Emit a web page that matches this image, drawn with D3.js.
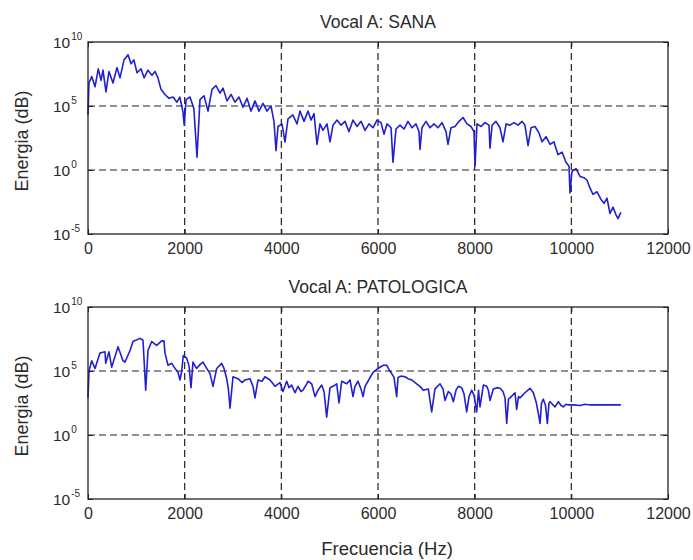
<!DOCTYPE html>
<html>
<head>
<meta charset="utf-8">
<script src="https://cdn.jsdelivr.net/npm/d3@7"></script>
<style>
  body { margin: 0; background: #fff; }
  text { font-family: "Liberation Sans", Arial, sans-serif; fill: #2b2b2b; }
</style>
</head>
<body>
<div id="chart"></div>
<script>
var w = 693;
var h = 560;

var xTicks = [0, 2000, 4000, 6000, 8000, 10000, 12000];
var yTickExps = [-5, 0, 5, 10];
var titles = ["Vocal A: SANA", "Vocal A: PATOLOGICA"];

// espectro vocal sana: frecuencia (Hz) y exponente log10 de la energia
var sanaFreq = [0, 20, 77, 145, 213, 270, 310, 372, 434, 517, 600, 662, 745, 828, 890, 950, 1014, 1097, 1160, 1240,
  1324, 1386, 1448, 1510, 1593, 1676, 1760, 1840, 1900, 1966, 1990, 2030, 2110, 2190, 2255, 2317, 2400, 2483, 2566, 2648,
  2731, 2793, 2876, 2960, 3041, 3124, 3207, 3290, 3372, 3455, 3538, 3620, 3703, 3786, 3848, 3890, 3931, 4014, 4076, 4138,
  4240, 4324, 4386, 4469, 4552, 4614, 4676, 4738, 4800, 4862, 4945, 5007, 5069, 5152, 5235, 5318, 5400, 5483, 5566, 5650,
  5731, 5814, 5897, 5980, 6062, 6124, 6186, 6270, 6310, 6372, 6455, 6538, 6620, 6703, 6786, 6848, 6869, 6910, 6993, 7076,
  7158, 7240, 7324, 7407, 7448, 7510, 7593, 7676, 7760, 7840, 7924, 7986, 8007, 8048, 8131, 8214, 8297, 8317, 8360, 8441,
  8524, 8586, 8650, 8731, 8814, 8897, 8980, 9040, 9104, 9166, 9248, 9331, 9393, 9476, 9560, 9640, 9724, 9807, 9890, 9952,
  9972, 10014, 10097, 10180, 10262, 10324, 10386, 10448, 10531, 10614, 10676, 10738, 10800, 10862, 10924, 10966, 11025];
var sanaExp = [4.3, 6.8, 7.3, 6.5, 7.9, 7.0, 7.8, 6.1, 7.7, 6.8, 8.0, 7.2, 8.6, 9.0, 8.3, 8.6, 7.6, 7.9, 7.2, 7.8,
  7.4, 7.7, 7.2, 6.3, 5.9, 5.6, 5.7, 5.3, 5.7, 4.5, 3.5, 5.5, 5.7, 4.8, 1.0, 5.5, 5.8, 4.6, 6.3, 6.6,
  6.0, 6.4, 5.4, 5.9, 5.3, 5.7, 4.9, 5.6, 4.6, 5.4, 4.6, 5.2, 4.6, 5.0, 3.8, 1.5, 3.4, 3.6, 2.2, 4.0,
  4.3, 3.6, 4.6, 3.8, 4.6, 3.9, 4.4, 2.0, 3.6, 3.1, 3.6, 2.2, 3.5, 3.9, 3.5, 3.8, 3.0, 3.9, 3.4, 3.8,
  3.1, 3.6, 3.3, 3.9, 3.7, 2.8, 3.6, 3.3, 0.6, 3.2, 3.5, 3.2, 3.8, 3.3, 3.6, 3.0, 1.6, 3.3, 3.8, 3.3,
  3.6, 3.3, 3.7, 3.0, 2.0, 3.3, 3.4, 3.8, 4.1, 3.6, 3.4, 3.0, 0.3, 3.6, 3.4, 3.7, 3.5, 1.7, 3.5, 3.8,
  3.3, 2.2, 3.6, 3.5, 3.7, 3.5, 3.8, 3.5, 1.9, 3.3, 3.4, 2.9, 2.2, 2.6, 2.0, 2.2, 1.2, 1.4, 0.6, 0.3,
  -1.8, -0.1, 0.1, -0.5, -0.6, -0.8, -1.4, -1.9, -1.7, -2.3, -2.6, -2.2, -3.4, -2.9, -3.5, -3.8, -3.3];

// espectro vocal patologica
var patoFreq = [0, 21, 77, 145, 248, 352, 366, 434, 490, 621, 724, 766, 869, 931, 1076, 1138, 1194, 1241, 1318, 1421,
  1525, 1572, 1593, 1655, 1732, 1800, 1862, 1903, 1935, 1972, 2042, 2090, 2131, 2172, 2245, 2317, 2379, 2441, 2524, 2586,
  2663, 2766, 2814, 2870, 2907, 2938, 3000, 3103, 3186, 3248, 3352, 3414, 3455, 3517, 3600, 3662, 3766, 3869, 3972, 4034,
  4111, 4159, 4214, 4283, 4345, 4407, 4448, 4525, 4552, 4628, 4697, 4759, 4835, 4883, 4938, 5007, 5069, 5146, 5193, 5249,
  5352, 5421, 5483, 5524, 5586, 5648, 5690, 5731, 5793, 5897, 6000, 6110, 6180, 6228, 6283, 6331, 6387, 6414, 6476, 6559,
  6621, 6697, 6800, 6869, 6938, 7041, 7111, 7179, 7283, 7345, 7386, 7455, 7510, 7559, 7614, 7662, 7732, 7780, 7835, 7883,
  7938, 7986, 8042, 8080, 8110, 8180, 8249, 8283, 8317, 8386, 8462, 8524, 8586, 8628, 8663, 8700, 8731, 8835, 8869, 8907,
  8938, 9041, 9145, 9214, 9270, 9317, 9352, 9383, 9421, 9466, 9504, 9538, 9559, 9662, 9731, 9787, 9835, 9890, 9938, 10041,
  10180, 10283, 10386, 11025];
var patoExp = [2.9, 5.0, 5.8, 5.2, 6.4, 6.5, 5.6, 6.5, 5.3, 6.9, 5.8, 5.7, 6.6, 7.3, 7.55, 7.4, 3.5, 6.6, 7.3, 7.0,
  7.35, 7.35, 6.4, 5.45, 5.6, 5.2, 4.9, 4.3, 4.9, 6.2, 6.0, 5.4, 3.7, 5.7, 5.2, 5.5, 5.7, 5.3, 4.8, 3.8,
  5.2, 5.6, 5.2, 4.4, 3.5, 2.1, 4.55, 4.4, 4.1, 4.3, 4.4, 3.8, 2.9, 4.3, 4.2, 4.55, 4.3, 3.8, 4.1, 3.4,
  4.2, 3.7, 3.9, 3.3, 3.8, 3.4, 3.5, 4.0, 4.2, 4.0, 3.0, 3.5, 3.9, 3.4, 1.4, 3.7, 3.8, 4.0, 2.5, 4.2,
  4.0, 4.3, 3.0, 3.8, 4.2, 3.6, 3.0, 3.8, 4.2, 4.9, 5.2, 5.45, 5.45, 5.1, 4.8, 4.5, 3.0, 4.5, 4.6, 4.55,
  4.4, 4.3, 4.0, 3.8, 3.5, 3.6, 1.8, 3.6, 4.0, 3.6, 2.7, 3.4, 3.2, 2.6, 3.5, 3.8, 3.7, 3.2, 1.8, 3.0,
  3.5, 3.1, 1.8, 3.5, 2.2, 3.9, 3.8, 3.5, 2.7, 3.6, 3.7, 3.65, 3.4, 2.9, 0.9, 2.8, 2.9, 3.3, 2.0, 3.0,
  2.9, 3.3, 3.65, 3.3, 2.6, 1.7, 0.9, 2.5, 2.8, 2.3, 0.9, 2.5, 2.6, 2.2, 2.6, 2.3, 2.2, 2.4, 2.35, 2.35,
  2.3, 2.4, 2.35, 2.35];

var left = 88;
var right = 668;
var panelTops = [42, 307];
var panelH = 192;

var svg = d3.select("#chart").append("svg").attr("width", w).attr("height", h);

var xScale = d3.scaleLinear().domain([0, 12000]).range([left, right]);

function drawPanel(top, title, freq, exps) {
  var bottom = top + panelH;
  var yScale = d3.scaleLog().domain([1e-5, 1e10]).range([bottom, top]);
  var g = svg.append("g");

  // grid
  g.selectAll(".vgrid")
    .data(xTicks.slice(1, -1))
    .enter()
    .append("line")
    .attr("x1", function (d) { return xScale(d); })
    .attr("x2", function (d) { return xScale(d); })
    .attr("y1", top)
    .attr("y2", bottom)
    .attr("stroke", "#222")
    .attr("stroke-width", 1.2)
    .attr("stroke-dasharray", "7,4");
  g.selectAll(".hgrid")
    .data(yTickExps.slice(1, -1))
    .enter()
    .append("line")
    .attr("x1", left)
    .attr("x2", right)
    .attr("y1", function (d) { return yScale(Math.pow(10, d)); })
    .attr("y2", function (d) { return yScale(Math.pow(10, d)); })
    .attr("stroke", "#222")
    .attr("stroke-width", 1.2)
    .attr("stroke-dasharray", "7,4");

  // spectrum
  var pts = freq.map(function (f, i) { return [f, Math.pow(10, exps[i])]; });
  var line = d3.line()
    .x(function (d) { return xScale(d[0]); })
    .y(function (d) { return yScale(d[1]); });
  g.append("path")
    .datum(pts)
    .attr("d", line)
    .attr("fill", "none")
    .attr("stroke", "#2020d0")
    .attr("stroke-width", 1.6)
    .attr("stroke-linejoin", "round");

  // axes (ticks inward, mirrored)
  var xb = d3.axisBottom(xScale).tickValues(xTicks).tickSizeInner(-5).tickSizeOuter(0).tickPadding(9).tickFormat(d3.format("d"));
  var xt = d3.axisTop(xScale).tickValues(xTicks).tickSizeInner(-5).tickSizeOuter(0).tickFormat("");
  var yTickVals = yTickExps.map(function (e) { return Math.pow(10, e); });
  var yl = d3.axisLeft(yScale).tickValues(yTickVals).tickSizeInner(-5).tickSizeOuter(0).tickFormat("");
  var yr = d3.axisRight(yScale).tickValues(yTickVals).tickSizeInner(-5).tickSizeOuter(0).tickFormat("");

  g.append("g").attr("transform", "translate(0," + bottom + ")").call(xb);
  g.append("g").attr("transform", "translate(0," + top + ")").call(xt);
  g.append("g").attr("transform", "translate(" + left + ",0)").call(yl);
  g.append("g").attr("transform", "translate(" + right + ",0)").call(yr);
  g.selectAll(".domain").remove();
  g.selectAll(".tick line").attr("stroke", "#222");
  g.selectAll(".tick text")
    .attr("font-size", "16px")
    .attr("fill", "#2b2b2b")
    .style("font-family", "'Liberation Sans', Arial, sans-serif");

  g.append("rect")
    .attr("x", left)
    .attr("y", top)
    .attr("width", right - left)
    .attr("height", panelH)
    .attr("fill", "none")
    .attr("stroke", "#222")
    .attr("stroke-width", 1.3);

  // y tick labels as 10^n
  var lab = g.selectAll(".ylab")
    .data(yTickExps)
    .enter()
    .append("text")
    .attr("x", 53)
    .attr("y", function (d) { return yScale(Math.pow(10, d)) + 6; })
    .attr("font-size", "15.5px");
  lab.append("tspan").text("10");
  lab.append("tspan")
    .attr("dy", -8)
    .attr("dx", 1)
    .attr("font-size", "10px")
    .text(function (d) { return d; });

  g.append("text")
    .attr("x", (left + right) / 2)
    .attr("y", top - 14)
    .attr("text-anchor", "middle")
    .attr("font-size", "17.5px")
    .text(title);

  g.append("text")
    .attr("transform", "translate(28," + (top + panelH / 2 + 3) + ") rotate(-90)")
    .attr("text-anchor", "middle")
    .attr("font-size", "18px")
    .text("Energia (dB)");
}

drawPanel(panelTops[0], titles[0], sanaFreq, sanaExp);
drawPanel(panelTops[1], titles[1], patoFreq, patoExp);

svg.append("text")
  .attr("x", 387)
  .attr("y", 555)
  .attr("text-anchor", "middle")
  .attr("font-size", "18.5px")
  .text("Frecuencia (Hz)");
</script>
</body>
</html>
